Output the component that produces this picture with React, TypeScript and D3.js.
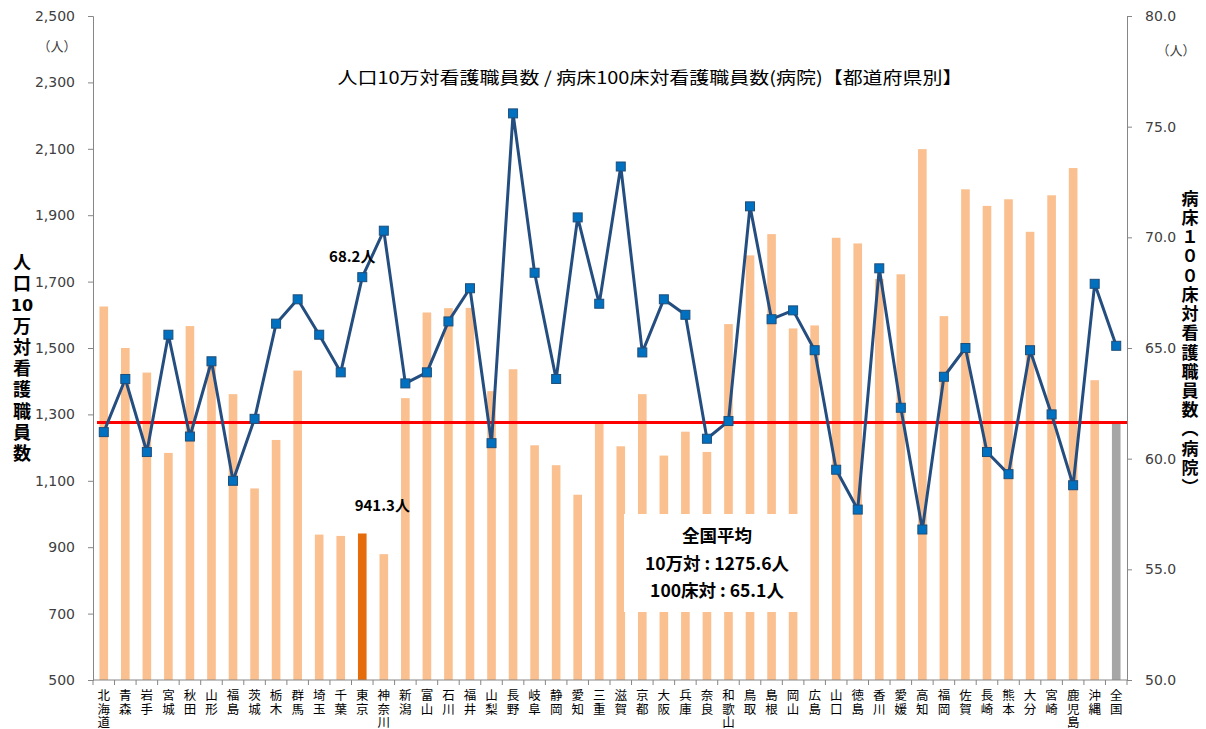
import { useEffect, useRef } from "react";
import * as d3 from "d3";

// 都道府県（最後は全国）
const prefectures = [
  "北海道", "青森", "岩手", "宮城", "秋田", "山形", "福島", "茨城", "栃木", "群馬",
  "埼玉", "千葉", "東京", "神奈川", "新潟", "富山", "石川", "福井", "山梨", "長野",
  "岐阜", "静岡", "愛知", "三重", "滋賀", "京都", "大阪", "兵庫", "奈良", "和歌山",
  "鳥取", "島根", "岡山", "広島", "山口", "徳島", "香川", "愛媛", "高知", "福岡",
  "佐賀", "長崎", "熊本", "大分", "宮崎", "鹿児島", "沖縄", "全国",
];

// 人口10万対看護職員数（棒）
const per100k = [
  1625, 1500, 1426, 1184, 1566, 1455, 1361, 1077, 1223, 1432,
  938, 934, 941.3, 879, 1349, 1607, 1620, 1621, 1370, 1436,
  1207, 1147, 1058, 1280, 1204, 1361, 1176, 1248, 1187, 1572,
  1779, 1843, 1559, 1568, 1832, 1815, 1708, 1722, 2099, 1596,
  1978, 1928, 1948, 1850, 1960, 2042, 1403, 1275.6,
];

// 病床100床対看護職員数（病院）（折れ線）
const per100beds = [
  61.2, 63.6, 60.3, 65.6, 61.0, 64.4, 59.0, 61.8, 66.1, 67.2,
  65.6, 63.9, 68.2, 70.3, 63.4, 63.9, 66.2, 67.7, 60.7, 75.6,
  68.4, 63.6, 70.9, 67.0, 73.2, 64.8, 67.2, 66.5, 60.9, 61.7,
  71.4, 66.3, 66.7, 64.9, 59.5, 57.7, 68.6, 62.3, 56.8, 63.7,
  65.0, 60.3, 59.3, 64.9, 62.0, 58.8, 67.9, 65.1,
];

const leftTicks = [500, 700, 900, 1100, 1300, 1500, 1700, 1900, 2100, 2300, 2500];
const rightTicks = [50, 55, 60, 65, 70, 75, 80];
const nationalAvg = 1275.6;
const nationalBeds = 65.1;

const App = () => {
  const svgRef = useRef<SVGSVGElement>(null);

  useEffect(() => {
    const svg = d3.select(svgRef.current);
    svg.selectAll("*").remove();

    const left = 93, right = 1127, top = 16, bottom = 680;
    const jp = "'Noto Sans CJK JP', sans-serif";
    const num = "'DejaVu Sans', sans-serif";

    const x = d3.scaleBand<string>()
      .domain(prefectures)
      .range([left, right])
      .paddingInner(0.6)
      .paddingOuter(0.3);
    const yL = d3.scaleLinear().domain([500, 2500]).range([bottom, top]);
    const yR = d3.scaleLinear().domain([50, 80]).range([bottom, top]);
    const cx = (d: string) => (x(d) as number) + x.bandwidth() / 2;

    // 棒
    svg.append("g")
      .selectAll("rect")
      .data(prefectures)
      .enter()
      .append("rect")
      .attr("x", (d) => x(d) as number)
      .attr("width", x.bandwidth())
      .attr("y", (d, i) => yL(per100k[i]))
      .attr("height", (d, i) => bottom - yL(per100k[i]))
      .attr("fill", (d) => (d === "東京" ? "#E46C0A" : d === "全国" ? "#A6A6A6" : "#FAC090"));

    // 全国平均（赤線）
    svg.append("line")
      .attr("x1", left + 4)
      .attr("x2", right)
      .attr("y1", yL(nationalAvg))
      .attr("y2", yL(nationalAvg))
      .attr("stroke", "#FF0000")
      .attr("stroke-width", 3);

    // 注記ボックス
    const box = svg.append("g");
    box.append("rect")
      .attr("x", 624).attr("y", 514).attr("width", 178).attr("height", 98)
      .attr("fill", "#fff");
    const boxLines = ["全国平均", `10万対 : ${nationalAvg}人`, `100床対 : ${nationalBeds}人`];
    box.selectAll("text")
      .data(boxLines)
      .enter()
      .append("text")
      .attr("x", 717)
      .attr("y", (d, i) => 542 + i * 27.5)
      .attr("text-anchor", "middle")
      .style("font-family", jp)
      .style("font-weight", "bold")
      .style("font-size", "17.5px")
      .text((d) => d);

    // 折れ線
    const line = d3.line<number>()
      .x((d, i) => cx(prefectures[i]))
      .y((d) => yR(d));
    svg.append("path")
      .datum(per100beds)
      .attr("d", line)
      .attr("fill", "none")
      .attr("stroke", "#254E80")
      .attr("stroke-width", 3)
      .attr("stroke-linejoin", "round");
    svg.append("g")
      .selectAll("rect")
      .data(per100beds)
      .enter()
      .append("rect")
      .attr("x", (d, i) => cx(prefectures[i]) - 4.5)
      .attr("y", (d) => yR(d) - 4.5)
      .attr("width", 9)
      .attr("height", 9)
      .attr("fill", "#0070C0")
      .attr("stroke", "#1F4E79")
      .attr("stroke-width", 1);

    // 東京のラベル
    const tokyo = prefectures.indexOf("東京");
    svg.append("text")
      .attr("x", cx("東京") - 10)
      .attr("y", yR(per100beds[tokyo]) - 15)
      .attr("text-anchor", "middle")
      .style("font-family", jp).style("font-weight", "bold").style("font-size", "15px")
      .text(`${per100beds[tokyo]}人`);
    svg.append("text")
      .attr("x", cx("東京") + 20)
      .attr("y", yL(per100k[tokyo]) - 22)
      .attr("text-anchor", "middle")
      .style("font-family", jp).style("font-weight", "bold").style("font-size", "15px")
      .text(`${per100k[tokyo]}人`);

    // 左軸
    const axisL = svg.append("g")
      .attr("transform", `translate(${left},0)`)
      .call(d3.axisLeft(yL).tickValues(leftTicks).tickSize(5).tickPadding(13).tickFormat(d3.format(",")));
    // 右軸
    const axisR = svg.append("g")
      .attr("transform", `translate(${right},0)`)
      .call(d3.axisRight(yR).tickValues(rightTicks).tickSize(5).tickPadding(13).tickFormat(d3.format(".1f")));
    [axisL, axisR].forEach((a) => {
      a.select(".domain").attr("stroke", "#868686");
      a.selectAll(".tick line").attr("stroke", "#868686");
      a.selectAll(".tick text")
        .attr("fill", "#404040")
        .style("font-family", num)
        .style("font-size", "14px");
    });

    // 下軸
    svg.append("line")
      .attr("x1", left).attr("x2", right).attr("y1", bottom).attr("y2", bottom)
      .attr("stroke", "#868686");
    svg.append("g")
      .selectAll("line")
      .data(d3.range(prefectures.length + 1))
      .enter()
      .append("line")
      .attr("x1", (k) => left + x.step() * k)
      .attr("x2", (k) => left + x.step() * k)
      .attr("y1", bottom)
      .attr("y2", bottom + 5)
      .attr("stroke", "#868686");

    // 縦書きの都道府県名
    svg.append("g")
      .selectAll("text")
      .data(prefectures)
      .enter()
      .append("text")
      .attr("x", (d) => cx(d))
      .attr("y", 689)
      .style("writing-mode", "vertical-rl")
      .style("font-family", jp)
      .style("font-size", "12.5px")
      .style("letter-spacing", "1.1px")
      .attr("fill", "#000")
      .text((d) => d);

    // 単位
    svg.append("text").attr("x", 57).attr("y", 51).attr("text-anchor", "middle")
      .attr("fill", "#404040").style("font-family", jp).style("font-size", "13px").text("（人）");
    svg.append("text").attr("x", 1176).attr("y", 55).attr("text-anchor", "middle")
      .attr("fill", "#404040").style("font-family", jp).style("font-size", "13px").text("（人）");

    // タイトル
    svg.append("text")
      .attr("x", 650).attr("y", 84)
      .attr("text-anchor", "middle")
      .attr("textLength", 625)
      .attr("lengthAdjust", "spacingAndGlyphs")
      .style("font-family", jp).style("font-size", "17px")
      .text("人口10万対看護職員数 / 病床100床対看護職員数(病院)【都道府県別】");

    // 左軸タイトル（人口 / 10 / 万対看護職員数）
    const vTitle = (t: string, y0: number) =>
      svg.append("text")
        .attr("x", 22).attr("y", y0)
        .style("writing-mode", "vertical-rl")
        .style("font-family", jp).style("font-weight", "bold").style("font-size", "18px")
        .style("letter-spacing", "3.2px")
        .text(t);
    vTitle("人口", 253);
    svg.append("text")
      .attr("x", 22).attr("y", 311)
      .attr("text-anchor", "middle")
      .style("font-family", num).style("font-weight", "bold").style("font-size", "16px")
      .text("10");
    vTitle("万対看護職員数", 317);

    // 右軸タイトル
    svg.append("text")
      .attr("x", 1190).attr("y", 190)
      .style("writing-mode", "vertical-rl")
      .style("font-family", jp).style("font-weight", "bold").style("font-size", "17px")
      .style("letter-spacing", "2.2px")
      .text("病床１００床対看護職員数（病院）");
  }, []);

  return (
    <div style={{ position: "absolute", left: 0, top: 0, background: "#fff" }}>
      <svg ref={svgRef} width={1206} height={729}></svg>
    </div>
  );
};

export default App;
